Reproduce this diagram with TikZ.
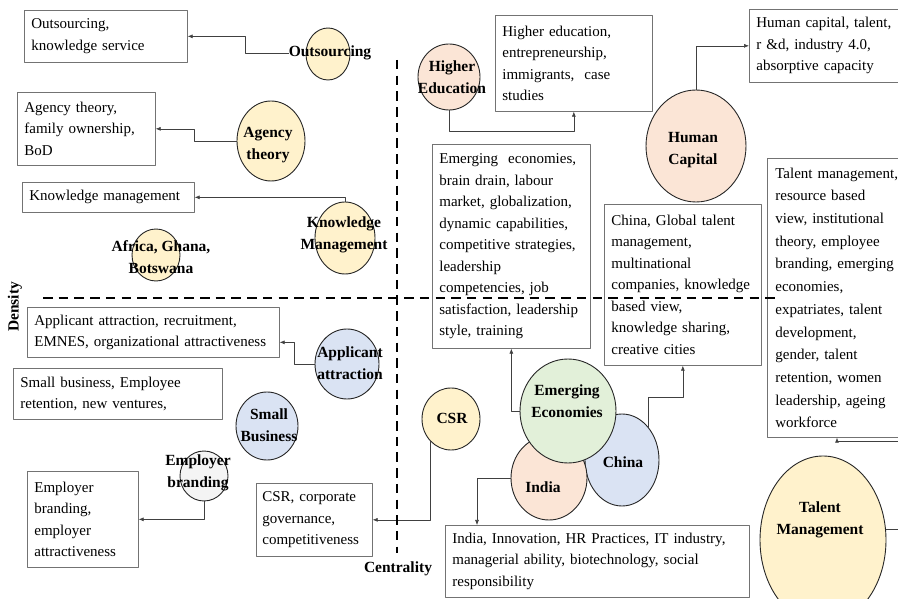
\documentclass[tikz,border=0pt]{standalone}
\usepackage{fontspec}
\setmainfont{Liberation Serif}
\usetikzlibrary{shapes.geometric,arrows.meta}

\definecolor{themeyellow}{HTML}{FFF2CC}
\definecolor{themepink}{HTML}{FBE5D6}
\definecolor{themeblue}{HTML}{DAE3F3}
\definecolor{themegreen}{HTML}{E2F0D9}
\definecolor{themegrey}{HTML}{F4F4F4}

\tikzset{
  theme/.style={ellipse,draw=black!85,line width=0.9bp,inner sep=0pt},
  themetext/.style={font=\bfseries\fontsize{15.5bp}{21.5bp}\selectfont,align=center,inner sep=0pt},
  kwbox/.style={draw=black!55,line width=0.7bp,fill=white,anchor=north west,align=left,
    inner sep=7bp,font=\fontsize{15bp}{21.5bp}\selectfont},
  conn/.style={->,draw=black!75,line width=0.6bp},
  axis/.style={line width=2.4bp,dash pattern=on 9.5bp off 6.2bp},
}

\begin{document}
\begin{tikzpicture}[>={Latex[length=5bp,width=4bp]},line join=bevel]
    \useasboundingbox (0,0) rectangle (898bp,599bp);
    \clip (0,0) rectangle (898bp,599bp);
    %% keyword boxes
    \node (osbox) at (24.0bp,589.0bp) [kwbox,text width=149bp,minimum height=52bp] {Outsourcing,\\knowledge service};
    \node (agbox) at (17.0bp,507.0bp) [kwbox,text width=124bp,minimum height=73bp] {Agency theory,\\family ownership,\\BoD};
    \node (kmbox) at (22.0bp,417.0bp) [kwbox,text width=158bp,minimum height=30bp] {Knowledge management};
    \node (hebox) at (495.0bp,584.0bp) [kwbox,text width=143bp,minimum height=96bp] {Higher education,\\entrepreneurship,\\immigrants,\ \ case\\studies};
    \node (hcbox) at (749.0bp,590.0bp) [kwbox,text width=152bp,minimum height=73bp] {Human capital, talent,\\r \&d, industry 4.0,\\absorptive capacity};
    \node (eebox) at (432.0bp,455.0bp) [kwbox,text width=144bp,minimum height=204bp] {Emerging\ \ economies,\\brain drain, labour\\market, globalization,\\dynamic capabilities,\\competitive strategies,\\leadership\\competencies, job\\satisfaction, leadership\\style, training};
    \node (cnbox) at (604.0bp,395.0bp) [kwbox,text width=143bp,minimum height=161bp] {China, Global talent\\management,\\multinational\\companies, knowledge\\based view,\\knowledge sharing,\\creative cities};
    \node (tmbox) at (767.0bp,441.0bp) [kwbox,text width=134bp,minimum height=279bp,inner xsep=8bp,
      font=\fontsize{15bp}{22.7bp}\selectfont] {Talent management,\\resource based\\view,\ institutional\\theory, employee\\branding, emerging\\economies,\\expatriates, talent\\development,\\gender, talent\\retention, women\\leadership, ageing\\workforce};
    \node (apbox) at (27.0bp,292.0bp) [kwbox,text width=238bp,minimum height=50bp] {Applicant attraction, recruitment,\\EMNES, organizational attractiveness};
    \node (sbbox) at (13.0bp,231.0bp) [kwbox,text width=195bp,minimum height=51bp] {Small business, Employee\\retention, new ventures,};
    \node (ebbox) at (27.0bp,128.0bp) [kwbox,text width=97bp,minimum height=96bp] {Employer\\branding,\\employer\\attractiveness};
    \node (csbox) at (256.0bp,116.0bp) [kwbox,text width=104bp,inner xsep=6bp,minimum height=73bp] {CSR, corporate\\governance,\\competitiveness};
    \node (inbox) at (445.0bp,74.0bp) [kwbox,text width=290bp,minimum height=72bp] {India, Innovation, HR Practices, IT industry,\\managerial ability, biotechnology, social\\responsibility};
    %% themes
    \node (osc) at (328.0bp,545.0bp) [theme,fill=themeyellow,minimum width=44bp,minimum height=52bp] {};
    \node (agc) at (271.0bp,458.0bp) [theme,fill=themeyellow,minimum width=68bp,minimum height=80bp] {};
    \node (kmc) at (345.0bp,361.0bp) [theme,fill=themeyellow,minimum width=60bp,minimum height=72bp] {};
    \node (afc) at (156.0bp,344.0bp) [theme,fill=themeyellow,minimum width=48bp,minimum height=52bp] {};
    \node (hec) at (449.0bp,522.0bp) [theme,fill=themepink,minimum width=62bp,minimum height=66bp] {};
    \node (hcc) at (696.0bp,453.0bp) [theme,fill=themepink,minimum width=100bp,minimum height=112bp] {};
    \node (apc) at (347.0bp,235.0bp) [theme,fill=themeblue,minimum width=64bp,minimum height=70bp] {};
    \node (sbc) at (267.0bp,173.0bp) [theme,fill=themeblue,minimum width=62bp,minimum height=68bp] {};
    \node (ebc) at (204.0bp,123.0bp) [theme,fill=themegrey,minimum width=48bp,minimum height=50bp] {};
    \node (csc) at (451.0bp,180.0bp) [theme,fill=themeyellow,minimum width=58bp,minimum height=62bp] {};
    \node (chc) at (622.0bp,139.0bp) [theme,fill=themeblue,minimum width=74bp,minimum height=92bp] {};
    \node (inc) at (549.0bp,121.0bp) [theme,fill=themepink,minimum width=76bp,minimum height=84bp] {};
    \node (eec) at (568.0bp,188.0bp) [theme,fill=themegreen,minimum width=96bp,minimum height=104bp] {};
    \node (tmc) at (823.0bp,59.0bp) [theme,fill=themeyellow,minimum width=126bp,minimum height=168bp] {};
    %% theme names
    \node (osl) at (330.0bp,546.0bp) [themetext] {Outsourcing};
    \node (agl) at (268.0bp,454.0bp) [themetext] {Agency\\theory};
    \node (kml) at (344.0bp,364.0bp) [themetext] {Knowledge\\Management};
    \node (afl) at (161.0bp,342.0bp) [themetext] {Africa, Ghana,\\Botswana};
    \node (hel) at (452.0bp,522.0bp) [themetext] {Higher\\Education};
    \node (hcl) at (693.0bp,449.0bp) [themetext] {Human\\Capital};
    \node (apl) at (350.0bp,236.0bp) [themetext] {Applicant\\attraction};
    \node (sbl) at (269.0bp,174.0bp) [themetext] {Small\\Business};
    \node (ebl) at (198.0bp,126.0bp) [themetext] {Employer\\branding};
    \node (csl) at (452.0bp,181.0bp) [themetext] {CSR};
    \node (eel) at (567.0bp,198.0bp) [themetext] {Emerging\\Economies};
    \node (inl) at (543.0bp,112.0bp) [themetext] {India};
    \node (chl) at (623.0bp,137.0bp) [themetext] {China};
    \node (tml) at (820.0bp,79.0bp) [themetext] {Talent\\Management};
    %% links
    \draw [conn] (osl.west) -- ++(-43bp,0) |- (osbox.east);
    \draw [conn] (agc.west) -- ++(-42bp,0) |- (agbox.east);
    \draw [conn] (kmc.north) |- (kmbox.east);
    \draw [conn] (hec.south) -- ++(0,-21bp) -| (hebox.south);
    \draw [conn] (hcc.north) |- (hcbox.west);
    \draw [conn] (eec.west) -| (eebox.south);
    \draw [conn] (chc.north east) -- ++(0,30bp) -| (cnbox.south);
    \draw [conn] (inc.west) -| ([xshift=32bp]inbox.north west);
    \coordinate (tmbend) at (907.0bp,158.0bp);
    \draw [conn] (tmc.10) -| (tmbend) -| ([xshift=70bp]tmbox.south west);
    \draw [conn] (apc.west) -- ++(-20bp,0) |- ([yshift=-10bp]apbox.east);
    \draw [conn] (ebc.south) |- (ebbox.east);
    \draw [conn] (csc.south west) |- (csbox.east);
    %% axes
    \coordinate (hleft) at (43.0bp,301.0bp);
    \coordinate (hright) at (775.0bp,301.0bp);
    \coordinate (vtop) at (397.0bp,539.0bp);
    \coordinate (vbot) at (397.0bp,46.0bp);
    \draw [axis] (hleft) -- (hright);
    \draw [axis] (vtop) -- (vbot);
    \node (dens) at (15.0bp,292.0bp) [rotate=90,font=\bfseries\fontsize{15.5bp}{18bp}\selectfont] {Density};
    \node (cent) at (398.0bp,30.0bp) [font=\bfseries\fontsize{15.5bp}{18bp}\selectfont] {Centrality};
    %
\end{tikzpicture}
\end{document}
